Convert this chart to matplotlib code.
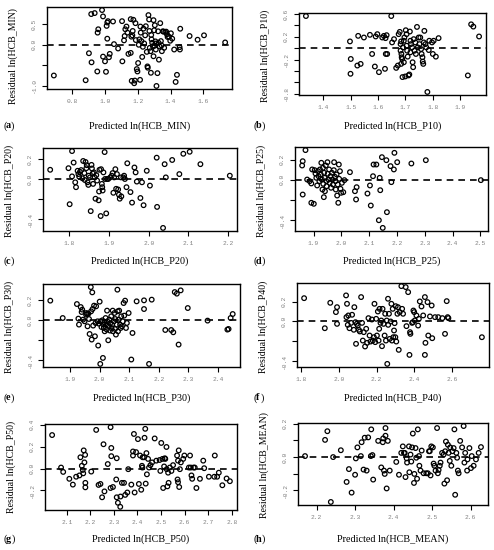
import matplotlib
matplotlib.use('Agg')
import matplotlib.pyplot as plt
from matplotlib.ticker import MultipleLocator, FuncFormatter

# ---- data ----
a_x = [0.688, 0.882, 0.902, 0.918, 0.916, 0.937, 0.955, 0.959, 0.953, 0.982, 0.988, 0.988, 1.0, 1.006, 1.010,
       1.014, 1.018, 1.014, 1.024, 1.029, 1.049, 1.055, 1.08, 1.104, 1.106, 1.116, 1.12, 1.124, 1.131, 1.137,
       1.143, 1.157, 1.157, 1.161, 1.163, 1.167, 1.169, 1.173, 1.178, 1.182, 1.186, 1.188, 1.194, 1.198, 1.202,
       1.206, 1.21, 1.214, 1.216, 1.218, 1.222, 1.227, 1.231, 1.235, 1.239, 1.245, 1.249, 1.255, 1.259, 1.261,
       1.265, 1.269, 1.271, 1.273, 1.278, 1.280, 1.282, 1.284, 1.288, 1.292, 1.296, 1.300, 1.302, 1.304, 1.308,
       1.310, 1.312, 1.296, 1.314, 1.320, 1.324, 1.327, 1.329, 1.333, 1.337, 1.341, 1.345, 1.347, 1.353, 1.357,
       1.361, 1.367, 1.373, 1.378, 1.382, 1.39, 1.398, 1.402, 1.41, 1.422, 1.431, 1.439, 1.455, 1.459, 1.457,
       1.516, 1.565, 1.604, 1.733]
a_y = [-0.746, -0.861, -0.205, -0.426, 0.746, 0.770, 0.295, 0.377, -0.648, 0.844, 0.689, -0.287, -0.402, -0.656,
       0.459, 0.541, 0.574, 0.148, -0.303, -0.221, 0.566, 0.016, -0.090, 0.574, -0.402, 0.107, 0.213, 0.377, 0.443,
       0.295, -0.221, 0.623, -0.197, 0.197, -0.877, 0.230, 0.336, 0.607, -0.934, -0.869, 0.525, 0.115, -0.590,
       -0.648, -0.443, 0.0, 0.131, -0.852, 0.443, 0.295, 0.090, -0.295, -0.049, 0.393, 0.033, 0.230, 0.451, -0.172,
       -0.525, -0.557, 0.721, 0.615, 0.336, -0.074, -0.156, -0.680, 0.238, 0.131, 0.049, -0.033, -0.279, 0.352,
       -0.025, 0.475, 0.082, -0.115, 0.033, 0.598, -1.0, -0.689, 0.328, 0.049, -0.361, -0.041, 0.525, 0.090,
       -0.016, -0.156, 0.328, 0.320, -0.074, 0.311, 0.320, 0.254, 0.189, 0.197, 0.098, 0.279, 0.148, -0.115,
       -0.902, -0.730, -0.057, 0.39, -0.115, 0.213, 0.123, 0.230, 0.057]

b_x = [1.336, 1.497, 1.5, 1.499, 1.524, 1.536, 1.527, 1.548, 1.57, 1.578, 1.588, 1.591, 1.597, 1.603, 1.615,
       1.621, 1.625, 1.627, 1.631, 1.628, 1.633, 1.648, 1.651, 1.658, 1.666, 1.672, 1.675, 1.679, 1.682, 1.682,
       1.684, 1.684, 1.685, 1.686, 1.688, 1.689, 1.691, 1.694, 1.694, 1.696, 1.699, 1.701, 1.704, 1.704, 1.706,
       1.708, 1.711, 1.714, 1.716, 1.718, 1.718, 1.72, 1.724, 1.726, 1.728, 1.73, 1.733, 1.736, 1.738, 1.742,
       1.745, 1.748, 1.751, 1.754, 1.757, 1.759, 1.762, 1.763, 1.765, 1.767, 1.769, 1.773, 1.776, 1.78, 1.785,
       1.787, 1.797, 1.8, 1.803, 1.811, 1.821, 1.94, 1.948, 1.928, 1.969]
b_y = [0.566, 0.119, -0.19, -0.451, -0.306, -0.277, 0.217, 0.188, 0.235, -0.102, -0.323, 0.206, 0.247, -0.422,
       0.188, 0.217, -0.364, 0.177, 0.229, -0.102, -0.102, 0.566, 0.101, 0.159, -0.347, -0.306, 0.247, 0.287,
       0.072, -0.044, 0.119, -0.277, -0.102, -0.16, -0.19, -0.509, 0.014, 0.131, -0.248, 0.188, -0.498, 0.316,
       0.247, 0.043, -0.044, -0.149, -0.48, -0.463, 0.293, 0.131, -0.073, 0.072, 0.014, -0.248, -0.335, 0.159,
       -0.044, 0.101, -0.102, 0.374, 0.014, 0.188, 0.072, 0.188, -0.015, -0.102, -0.16, -0.236, -0.277, 0.101,
       0.305, 0.072, 0.014, -0.771, -0.033, 0.131, 0.101, -0.102, 0.131, -0.149, 0.177, 0.42, 0.38, -0.48, 0.206]

c_x = [1.752, 1.798, 1.807, 1.801, 1.807, 1.811, 1.815, 1.817, 1.821, 1.823, 1.825, 1.827, 1.83, 1.833, 1.835,
       1.838, 1.839, 1.841, 1.843, 1.844, 1.846, 1.848, 1.849, 1.852, 1.854, 1.856, 1.857, 1.859, 1.86, 1.862,
       1.864, 1.866, 1.868, 1.87, 1.874, 1.875, 1.876, 1.879, 1.88, 1.882, 1.883, 1.884, 1.886, 1.889, 1.89,
       1.893, 1.895, 1.898, 1.903, 1.907, 1.909, 1.911, 1.913, 1.916, 1.918, 1.92, 1.923, 1.925, 1.927, 1.93,
       1.931, 1.936, 1.938, 1.94, 1.944, 1.946, 1.954, 1.958, 1.964, 1.967, 1.97, 1.979, 1.983, 1.987, 1.995,
       2.003, 2.021, 2.02, 2.04, 2.043, 2.036, 2.059, 2.077, 2.087, 2.103, 2.13, 2.204]
c_y = [0.092, 0.108, 0.279, -0.252, 0.026, 0.164, -0.033, -0.082, 0.082, 0.049, 0.023, 0.072, 0.089, 0.007,
       0.18, 0.059, -0.01, 0.17, 0.108, 0.138, -0.033, -0.059, 0.033, 0.016, -0.321, 0.141, 0.105, 0.056, -0.049,
       0.066, 0.016, -0.197, 0.039, -0.016, -0.213, -0.125, 0.092, -0.37, 0.098, -0.049, -0.082, -0.115, 0.066,
       0.269, 0.0, -0.344, 0.0, 0.0, 0.016, 0.033, 0.059, -0.138, 0.016, 0.098, -0.098, 0.049, -0.105, -0.157,
       -0.197, 0.016, -0.174, 0.016, 0.033, 0.0, -0.082, 0.157, -0.131, -0.236, 0.115, 0.066, -0.026, -0.19,
       -0.033, -0.262, 0.082, -0.066, -0.279, 0.213, 0.148, 0.016, -0.489, 0.19, 0.049, 0.252, 0.272, 0.148, 0.033]

d_x = [1.871, 1.861, 1.859, 1.861, 1.877, 1.886, 1.892, 1.892, 1.901, 1.895, 1.904, 1.907, 1.91, 1.913, 1.916,
       1.918, 1.921, 1.923, 1.926, 1.928, 1.93, 1.932, 1.934, 1.935, 1.937, 1.938, 1.94, 1.941, 1.944, 1.946,
       1.947, 1.95, 1.951, 1.954, 1.956, 1.958, 1.961, 1.963, 1.966, 1.968, 1.97, 1.973, 1.974, 1.977, 1.979,
       1.98, 1.983, 1.985, 1.987, 1.989, 1.991, 1.992, 1.995, 1.997, 1.999, 2.002, 2.007, 2.011, 2.031, 2.049,
       2.053, 2.055, 2.094, 2.103, 2.106, 2.114, 2.116, 2.126, 2.135, 2.138, 2.14, 2.146, 2.149, 2.162, 2.164,
       2.177, 2.18, 2.189, 2.191, 2.201, 2.252, 2.304, 2.502]
d_y = [0.295, 0.185, 0.142, -0.146, 0.003, -0.013, -0.036, -0.228, -0.238, 0.103, 0.096, 0.063, 0.02, -0.056,
       0.086, 0.036, -0.013, 0.103, 0.053, 0.169, 0.003, -0.096, 0.119, -0.04, -0.172, 0.07, 0.02, -0.113, 0.142,
       -0.013, -0.063, 0.175, 0.06, 0.003, 0.103, -0.03, 0.036, -0.079, 0.07, 0.003, -0.046, 0.096, 0.175, 0.03,
       -0.013, -0.096, 0.053, -0.156, -0.046, -0.228, 0.152, 0.01, 0.086, -0.089, -0.129, -0.03, -0.123, -0.003,
       0.076, -0.113, -0.195, -0.073, -0.136, -0.056, -0.255, 0.036, 0.152, 0.152, -0.401, 0.02, -0.103, 0.225,
       -0.477, 0.195, -0.321, 0.136, -0.023, 0.103, 0.268, 0.175, 0.162, 0.195, -0.003]

e_x = [1.833, 1.875, 1.923, 1.928, 1.93, 1.936, 1.939, 1.941, 1.944, 1.949, 1.954, 1.955, 1.958, 1.959, 1.962,
       1.964, 1.966, 1.97, 1.971, 1.973, 1.975, 1.976, 1.978, 1.981, 1.984, 1.986, 1.988, 1.993, 1.995, 1.997,
       2.0, 2.002, 2.003, 2.006, 2.009, 2.011, 2.012, 2.014, 2.016, 2.017, 2.02, 2.022, 2.024, 2.025, 2.026,
       2.029, 2.031, 2.033, 2.035, 2.036, 2.039, 2.04, 2.042, 2.044, 2.045, 2.048, 2.05, 2.052, 2.053, 2.055,
       2.058, 2.06, 2.061, 2.062, 2.064, 2.066, 2.069, 2.071, 2.073, 2.075, 2.078, 2.081, 2.083, 2.086, 2.089,
       2.092, 2.098, 2.107, 2.111, 2.125, 2.15, 2.15, 2.167, 2.176, 2.222, 2.242, 2.249, 2.254, 2.261, 2.267,
       2.274, 2.298, 2.365, 2.432, 2.436, 2.443, 2.45]
e_y = [0.197, 0.023, 0.163, 0.017, -0.043, 0.133, 0.083, 0.107, 0.007, -0.01, 0.057, 0.073, 0.063, -0.06, 0.067,
       0.013, -0.137, 0.333, 0.09, -0.193, 0.28, 0.113, -0.053, 0.147, -0.16, -0.027, 0.14, -0.01, -0.253, -0.033,
       0.187, -0.437, -0.01, -0.067, 0.0, -0.377, -0.043, -0.077, -0.02, -0.11, 0.023, -0.043, -0.093, 0.097,
       -0.01, -0.2, -0.06, 0.007, -0.103, -0.027, 0.04, -0.077, -0.043, 0.097, -0.11, -0.01, 0.073, -0.087, 0.013,
       -0.143, -0.043, 0.307, 0.09, -0.11, 0.007, 0.097, -0.043, -0.077, 0.04, -0.06, -0.01, 0.173, 0.047, 0.197,
       -0.077, -0.027, 0.073, -0.393, -0.127, 0.19, 0.113, 0.2, -0.437, 0.207, -0.097, -0.097, -0.12, 0.283,
       0.267, -0.243, 0.3, 0.123, -0.003, -0.093, -0.087, 0.023, 0.063]

f_x = [1.815, 1.925, 1.954, 1.984, 1.99, 1.99, 2.038, 2.04, 2.043, 2.047, 2.05, 2.056, 2.065, 2.07, 2.079, 2.082,
       2.088, 2.091, 2.095, 2.1, 2.106, 2.111, 2.118, 2.123, 2.127, 2.132, 2.139, 2.145, 2.15, 2.157, 2.163, 2.168,
       2.175, 2.18, 2.186, 2.189, 2.193, 2.198, 2.202, 2.207, 2.211, 2.214, 2.216, 2.221, 2.225, 2.229, 2.232,
       2.237, 2.243, 2.246, 2.25, 2.254, 2.257, 2.261, 2.262, 2.266, 2.27, 2.275, 2.279, 2.282, 2.286, 2.289,
       2.293, 2.296, 2.3, 2.302, 2.305, 2.311, 2.314, 2.318, 2.323, 2.332, 2.336, 2.341, 2.355, 2.359, 2.368,
       2.375, 2.378, 2.38, 2.389, 2.393, 2.396, 2.4, 2.403, 2.412, 2.421, 2.425, 2.43, 2.439, 2.448, 2.457,
       2.457, 2.46, 2.471, 2.475, 2.484, 2.493, 2.496, 2.511, 2.528, 2.55, 2.564, 2.573, 2.578, 2.582, 2.76]
f_y = [0.236, -0.068, 0.189, 0.095, 0.145, -0.024, 0.264, 0.044, 0.179, -0.034, 0.061, -0.068, -0.014, 0.068,
       -0.084, 0.145, -0.007, -0.226, -0.024, -0.041, -0.084, -0.101, 0.247, -0.014, -0.193, -0.108, -0.253,
       -0.074, -0.216, 0.034, -0.142, -0.203, 0.02, -0.193, -0.159, 0.179, -0.209, 0.027, -0.142, 0.101, -0.193,
       -0.074, 0.128, -0.014, 0.01, -0.25, 0.128, -0.024, -0.142, 0.078, -0.193, 0.01, -0.429, 0.23, -0.034,
       0.078, -0.176, 0.0, 0.179, -0.193, 0.128, -0.159, -0.091, -0.017, -0.159, 0.155, -0.203, 0.078, 0.145,
       -0.287, 0.095, 0.358, 0.128, 0.078, 0.348, -0.047, 0.297, -0.338, -0.108, -0.125, -0.014, -0.007, 0.111,
       0.095, 0.01, 0.061, -0.041, 0.027, 0.203, 0.152, 0.061, 0.247, -0.338, -0.216, 0.196, -0.142, 0.051,
       0.162, -0.169, 0.044, 0.044, 0.034, -0.125, 0.206, 0.044, 0.034, -0.159]

g_x = [2.038, 2.076, 2.085, 2.111, 2.126, 2.14, 2.154, 2.158, 2.164, 2.168, 2.17, 2.172, 2.175, 2.178, 2.179,
       2.179, 2.204, 2.225, 2.235, 2.243, 2.25, 2.256, 2.26, 2.274, 2.286, 2.289, 2.289, 2.286, 2.296, 2.31,
       2.312, 2.312, 2.317, 2.328, 2.334, 2.343, 2.348, 2.357, 2.361, 2.327, 2.374, 2.381, 2.381, 2.385, 2.388,
       2.394, 2.402, 2.406, 2.411, 2.416, 2.419, 2.421, 2.422, 2.428, 2.43, 2.433, 2.435, 2.438, 2.44, 2.445,
       2.449, 2.455, 2.462, 2.473, 2.48, 2.494, 2.497, 2.501, 2.506, 2.509, 2.513, 2.516, 2.518, 2.523, 2.524,
       2.527, 2.53, 2.532, 2.537, 2.544, 2.551, 2.568, 2.57, 2.572, 2.572, 2.575, 2.577, 2.58, 2.584, 2.594,
       2.599, 2.618, 2.623, 2.626, 2.629, 2.632, 2.638, 2.643, 2.65, 2.665, 2.679, 2.683, 2.703, 2.726, 2.728,
       2.738, 2.745, 2.76, 2.778, 2.792]
g_y = [0.306, 0.009, -0.031, -0.094, -0.147, -0.075, -0.063, 0.103, 0.025, -0.013, -0.044, 0.166, 0.056, 0.125,
       -0.131, -0.172, -0.028, 0.353, -0.15, -0.141, -0.263, 0.222, -0.209, 0.041, 0.378, 0.188, 0.113, -0.178,
       -0.169, -0.1, 0.094, -0.263, -0.313, -0.256, -0.131, -0.131, -0.241, -0.219, -0.006, -0.35, -0.147, 0.119,
       0.156, 0.316, -0.219, 0.15, 0.269, -0.141, 0.119, -0.194, 0.025, 0.009, 0.103, 0.103, 0.281, 0.363, -0.138,
       0.141, -0.053, 0.088, 0.009, 0.031, 0.056, 0.275, 0.072, 0.078, -0.022, 0.234, 0.088, -0.178, 0.019,
       0.094, 0.088, 0.197, -0.006, -0.163, -0.038, -0.131, 0.009, -0.022, 0.031, 0.119, -0.1, 0.072, -0.125,
       0.166, -0.169, -0.006, 0.056, 0.088, 0.119, 0.009, 0.119, 0.009, -0.063, -0.094, 0.009, 0.009, -0.178,
       -0.094, 0.072, 0.003, -0.075, -0.075, 0.119, -0.075, -0.038, -0.153, -0.091, -0.116]

h_x = [2.17, 2.222, 2.228, 2.237, 2.243, 2.263, 2.278, 2.284, 2.291, 2.3, 2.302, 2.306, 2.315, 2.317, 2.322,
       2.325, 2.33, 2.334, 2.341, 2.342, 2.345, 2.347, 2.36, 2.368, 2.372, 2.373, 2.375, 2.377, 2.379, 2.379,
       2.382, 2.385, 2.39, 2.407, 2.414, 2.42, 2.424, 2.427, 2.429, 2.431, 2.434, 2.435, 2.44, 2.441, 2.444,
       2.446, 2.448, 2.45, 2.453, 2.454, 2.457, 2.459, 2.461, 2.463, 2.466, 2.467, 2.47, 2.473, 2.478, 2.485,
       2.489, 2.492, 2.494, 2.496, 2.498, 2.502, 2.504, 2.506, 2.509, 2.513, 2.515, 2.517, 2.52, 2.522, 2.526,
       2.53, 2.532, 2.534, 2.536, 2.539, 2.541, 2.543, 2.546, 2.547, 2.55, 2.553, 2.556, 2.558, 2.56, 2.563,
       2.565, 2.567, 2.569, 2.573, 2.578, 2.582, 2.584, 2.586, 2.591, 2.592, 2.597, 2.601, 2.603, 2.608, 2.614,
       2.621, 2.627]
h_y = [0.006, 0.103, 0.155, -0.269, 0.0, 0.041, -0.149, -0.072, -0.213, -0.106, -0.008, 0.058, 0.006, 0.089,
       -0.075, 0.116, -0.081, 0.118, 0.006, 0.166, 0.012, -0.135, 0.097, -0.062, 0.089, 0.112, -0.081, -0.101,
       0.128, 0.174, -0.188, 0.097, -0.081, -0.029, -0.106, 0.025, 0.064, 0.025, 0.025, -0.12, -0.008, -0.033,
       0.064, -0.091, 0.015, -0.027, 0.058, 0.141, -0.155, -0.101, 0.054, -0.004, -0.13, 0.166, 0.006, -0.052,
       -0.081, 0.039, -0.097, -0.097, -0.097, 0.035, 0.035, -0.11, 0.064, 0.058, -0.039, -0.052, -0.081, 0.174,
       -0.097, -0.077, -0.052, -0.033, 0.025, 0.015, -0.159, 0.035, 0.093, -0.139, 0.074, 0.025, -0.023, 0.058,
       -0.052, 0.035, 0.054, 0.166, -0.226, 0.025, -0.004, -0.081, -0.097, 0.097, 0.058, 0.186, -0.033, 0.025,
       -0.081, -0.014, 0.054, -0.066, 0.006, -0.052, -0.014, 0.025, 0.06]

names = ['MIN', 'P10', 'P20', 'P25', 'P30', 'P40', 'P50', 'MEAN']
letters = ['a', 'b', 'c', 'd', 'e', 'f', 'g', 'h']
xs = [a_x, b_x, c_x, d_x, e_x, f_x, g_x, h_x]
ys = [a_y, b_y, c_y, d_y, e_y, f_y, g_y, h_y]
x_steps = [0.2, 0.1, 0.1, 0.1, 0.1, 0.2, 0.1, 0.1]
y_steps = [0.5, 0.2, 0.2, 0.2, 0.2, 0.2, 0.2, 0.1]
y_labelled = [[0.5, 0.0, -1.0], [0.6, 0.2, -0.2, -0.8], [0.2, 0.0, -0.4], [0.2, 0.0, -0.4],
              [0.2, 0.0, -0.4], [0.2, 0.0, -0.4], [0.4, 0.2, 0.0, -0.2], [0.2, 0.0, -0.2]]

# pixel boxes of each panel: left, right, top, bottom ; caption y ; y-label centre
W, H = 494, 550
boxes = [(47, 232, 7, 89), (299, 486, 13, 95), (43, 237, 148, 231), (295, 488, 147, 231),
         (43, 240, 284, 367), (297, 489, 283, 367), (45, 237, 424, 510), (298, 488, 423, 505)]
cap_y = [126, 126, 261, 261, 398, 398, 539, 539]
ylab_y = [56, 56, 191, 191, 327, 327, 467, 465]

fig = plt.figure(figsize=(W / 100, H / 100), dpi=100)
fig.patch.set_facecolor('white')

serif = 'Liberation Serif'
mono = 'Liberation Mono'

for i in range(8):
    L, R, T, B = boxes[i]
    ax = fig.add_axes([L / W, 1 - B / H, (R - L) / W, (B - T) / H])
    ax.scatter(xs[i], ys[i], s=11, facecolors='none', edgecolors='black', linewidths=0.9, zorder=3)
    ax.axhline(0, color='black', lw=1.2, ls=(0, (4, 3)), zorder=2)
    ax.margins(0.04)
    ax.xaxis.set_major_locator(MultipleLocator(x_steps[i]))
    ax.yaxis.set_major_locator(MultipleLocator(y_steps[i]))
    ax.xaxis.set_major_formatter(FuncFormatter(lambda v, p: '%.1f' % v))
    keep = y_labelled[i]
    ax.yaxis.set_major_formatter(FuncFormatter(
        lambda v, p, keep=keep: ('%.1f' % v).replace('-0.0', '0.0') if any(abs(v - k) < 1e-6 for k in keep) else ''))
    for s in ax.spines.values():
        s.set_linewidth(1.0)
    ax.tick_params(direction='out', length=3.5, width=0.8, color='black', labelcolor='#808080',
                   labelsize=4.5, pad=4)
    for lab in ax.get_xticklabels() + ax.get_yticklabels():
        lab.set_fontfamily(mono)
    for lab in ax.get_yticklabels():
        lab.set_rotation(90)
        lab.set_va('center')

    cx = (L + R) / 2
    fig.text(cx / W, 1 - cap_y[i] / H, 'Predicted ln(HCB_%s)' % names[i], ha='center', va='center',
             fontsize=7.3, family=serif)
    fig.text((L - 34) / W, 1 - ylab_y[i] / H, 'Residual ln(HCB_%s)' % names[i], ha='center',
             va='center', rotation=90, fontsize=7.1, family=serif)
    lx = 3 if i % 2 == 0 else 253
    fig.text(lx / W, 1 - cap_y[i] / H, '(', ha='left', va='center', fontsize=7.3, family=serif)
    fig.text((lx + 3) / W, 1 - cap_y[i] / H, letters[i], ha='left', va='center', fontsize=7.3,
             family=serif, weight='bold')
    fig.text((lx + 3 + (6 if letters[i] in 'bdgh' else 4.5)) / W, 1 - cap_y[i] / H, ')', ha='left',
             va='center', fontsize=7.3, family=serif)

fig.savefig('out.png', dpi=100)
